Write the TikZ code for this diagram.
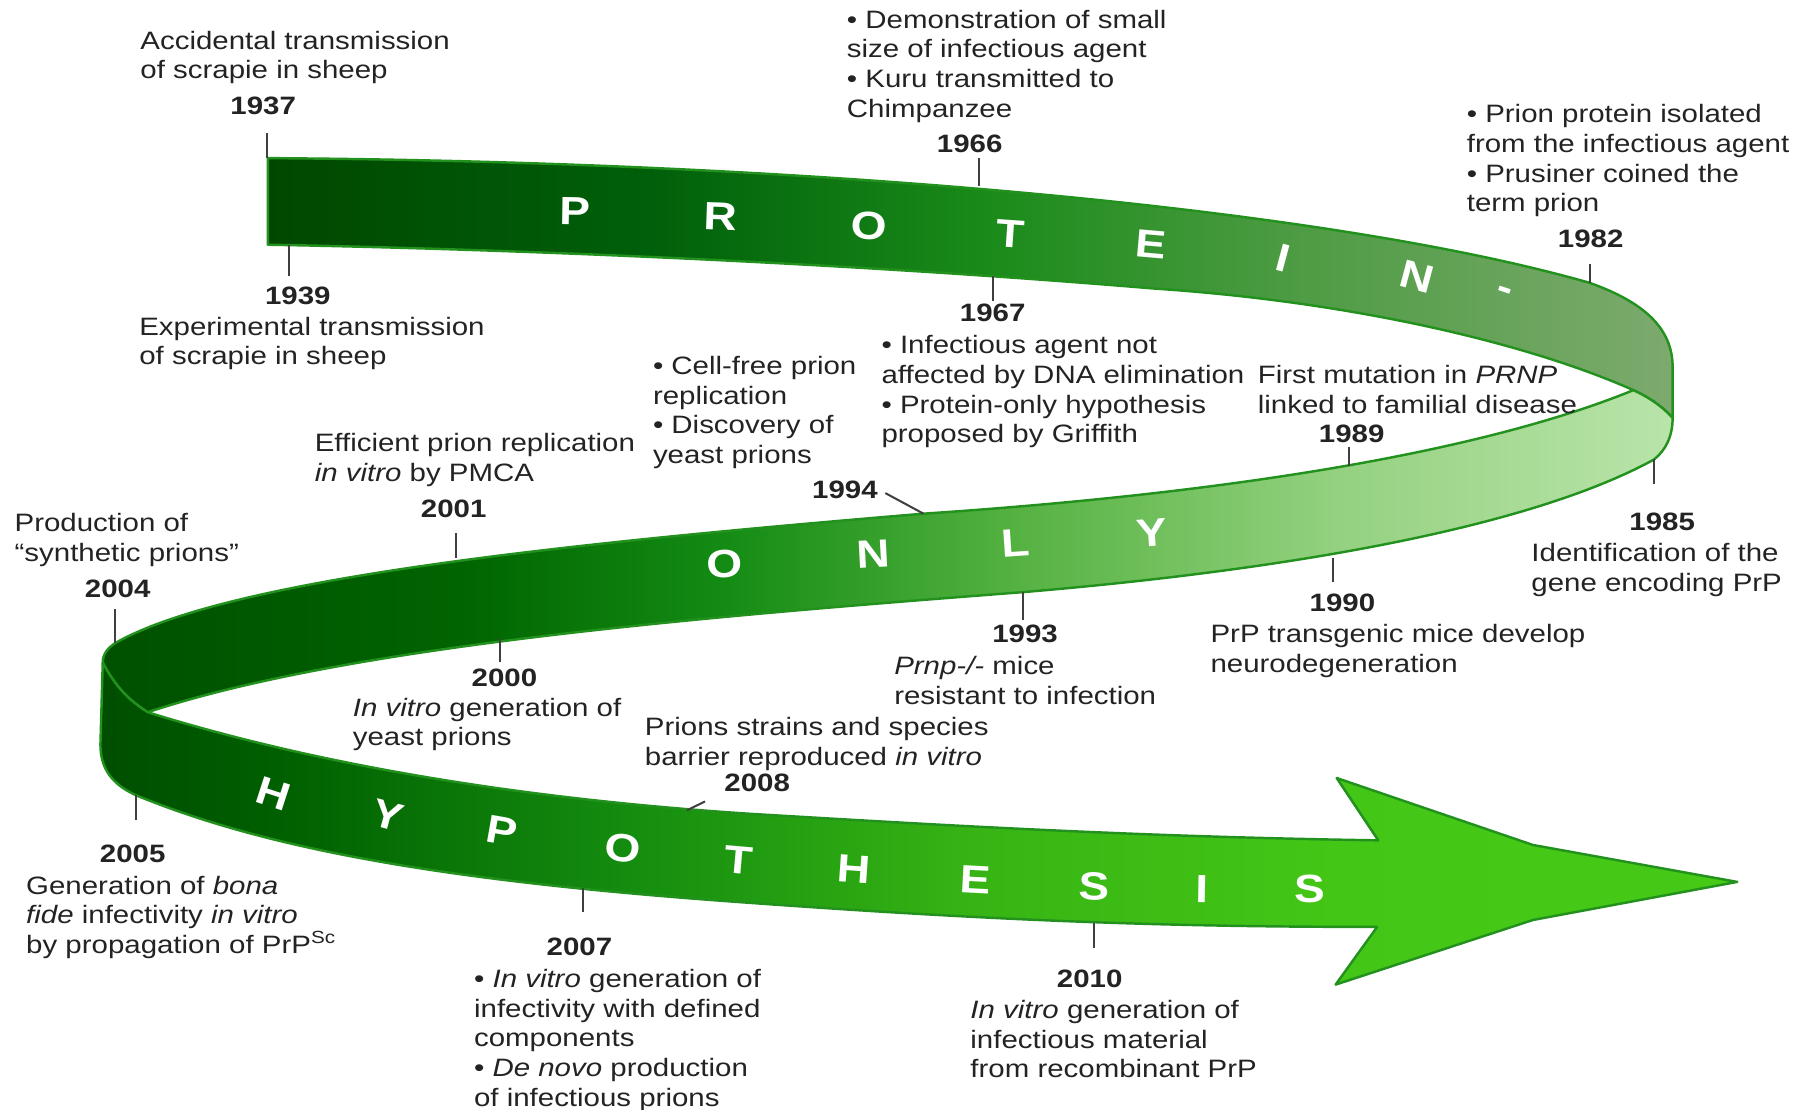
\documentclass[tikz,border=0pt]{standalone}
\usepackage{fontspec}
\setmainfont{Liberation Sans}[FakeStretch=1.17]
\usepackage{xcolor}
\usepackage{tikz}
\usetikzlibrary{positioning, calc}

\definecolor{bandline}{RGB}{35,145,30}
\definecolor{inkgray}{RGB}{35,35,35}
% upper band colours
\definecolor{b1a}{RGB}{0,72,0}
\definecolor{b1b}{RGB}{0,95,10}
\definecolor{b1c}{RGB}{25,138,25}
\definecolor{b1d}{RGB}{75,155,65}
\definecolor{b1e}{RGB}{125,170,110}
% middle band colours
\definecolor{b2a}{RGB}{0,80,0}
\definecolor{b2b}{RGB}{0,100,0}
\definecolor{b2c}{RGB}{20,140,20}
\definecolor{b2d}{RGB}{85,178,65}
\definecolor{b2e}{RGB}{150,210,130}
\definecolor{b2f}{RGB}{185,228,170}
% lower band colours
\definecolor{b3a}{RGB}{0,78,0}
\definecolor{b3b}{RGB}{0,95,0}
\definecolor{b3c}{RGB}{20,140,15}
\definecolor{b3d}{RGB}{55,180,20}
\definecolor{b3e}{RGB}{68,198,22}
\definecolor{b3f}{RGB}{70,202,22}

\pgfdeclarehorizontalshading{bandone}{100bp}{color(0bp)=(b1a); color(25bp)=(b1a);
  color(38.5bp)=(b1b); color(50.4bp)=(b1c); color(61bp)=(b1d); color(75bp)=(b1e); color(100bp)=(b1e)}
\pgfdeclarehorizontalshading{bandtwo}{100bp}{color(0bp)=(b2a); color(25bp)=(b2a);
  color(36.3bp)=(b2b); color(44.9bp)=(b2c); color(54.1bp)=(b2d); color(64.7bp)=(b2e); color(75bp)=(b2f); color(100bp)=(b2f)}
\pgfdeclarehorizontalshading{bandthree}{100bp}{color(0bp)=(b3a); color(25bp)=(b3a);
  color(30.3bp)=(b3b); color(41bp)=(b3c); color(51.7bp)=(b3d); color(62.7bp)=(b3e); color(75bp)=(b3f); color(100bp)=(b3f)}

\begin{document}
\begin{tikzpicture}[
  x=0.01cm, y=-0.01cm,
  font=\fontsize{6.2}{7.3}\selectfont, text=inkgray,
  yr/.style={font=\fontsize{6.2}{7.3}\selectfont\bfseries, inner sep=0pt},
  desc/.style={align=left, anchor=north west, inner sep=0pt},
  tick/.style={draw=black!75, line width=0.5pt},
  band/.style={draw=bandline, line width=0.6pt, line join=round},
  letter/.style={text=white, font=\fontsize{9.7}{9.7}\selectfont\bfseries, inner sep=0pt}
]
  \useasboundingbox (0,0) rectangle (1568,961);

  % ribbon: PROTEIN-
  \shade[band, shading=bandone]
    (232,137) .. controls (700,140) and (1150,180) .. (1377,245)
    .. controls (1425,262) and (1449,285) .. (1449,318) -- (1449,362)
    .. controls (1440,352) and (1428,344) .. (1415,338)
    .. controls (1330,300) and (1180,262) .. (1000,250)
    .. controls (700,225) and (400,215) .. (232,212) -- cycle;

  % ribbon: ONLY
  \shade[band, shading=bandtwo]
    (1415,338) .. controls (1300,385) and (1100,425) .. (800,445)
    .. controls (500,470) and (200,500) .. (100,557)
    .. controls (94,561) and (89,566) .. (89,574)
    .. controls (100,595) and (112,607) .. (128,617)
    .. controls (300,560) and (600,535) .. (886,513)
    .. controls (1100,495) and (1320,460) .. (1433,398)
    .. controls (1443,390) and (1449,378) .. (1449,362)
    .. controls (1440,352) and (1428,344) .. (1415,338) -- cycle;

  % ribbon: HYPOTHESIS with arrow head
  \shade[band, shading=bandthree]
    (128,617) .. controls (250,655) and (420,690) .. (650,705)
    .. controls (850,717) and (1000,725) .. (1194,728)
    -- (1158,674) -- (1328,732) -- (1505,764) -- (1328,797) -- (1157,853) -- (1193,803)
    .. controls (1000,803) and (850,797) .. (620,780)
    .. controls (380,762) and (230,735) .. (118,689)
    .. controls (96,679) and (87,665) .. (87,645) -- (89,574)
    .. controls (100,595) and (112,607) .. (128,617) -- cycle;

  % letters
  \node[letter, rotate=-1] (p1) at (498,183) {P};
  \node[letter, rotate=-2] (p2) at (624,188) {R};
  \node[letter, rotate=-3] (p3) at (753,196) {O};
  \node[letter, rotate=-4] (p4) at (875,203) {T};
  \node[letter, rotate=-5] (p5) at (997,212) {E};
  \node[letter, rotate=-15] (p6) at (1112,224) {I};
  \node[letter, rotate=-15] (p7) at (1228,240) {N};
  \node[letter, rotate=-18] (p8) at (1303,255) {-};

  \node[letter, rotate=3] (o1) at (628,489) {O};
  \node[letter, rotate=3] (o2) at (757,480) {N};
  \node[letter, rotate=4] (o3) at (880,470) {L};
  \node[letter, rotate=4] (o4) at (998,462) {Y};

  \node[letter, rotate=-18] (h1) at (237,688) {H};
  \node[letter, rotate=-15] (h2) at (336,706) {Y};
  \node[letter, rotate=-10] (h3) at (435,720) {P};
  \node[letter, rotate=-7] (h4) at (540,735) {O};
  \node[letter, rotate=-5] (h5) at (640,745) {T};
  \node[letter, rotate=-4] (h6) at (740,753) {H};
  \node[letter, rotate=-3] (h7) at (845,762) {E};
  \node[letter, rotate=-2] (h8) at (948,768) {S};
  \node[letter, rotate=-1] (h9) at (1041,770) {I};
  \node[letter] (h10) at (1135,770) {S};

  % tick points on the ribbon edges
  \coordinate (e1937) at (231,137);
  \coordinate (e1939) at (250,212);
  \coordinate (e1966) at (848,161);
  \coordinate (e1967) at (860,239);
  \coordinate (e1982) at (1377,245);
  \coordinate (e1985) at (1433,398);
  \coordinate (e1989) at (1169,404);
  \coordinate (e1990) at (1155,483);
  \coordinate (e1993) at (886,513);
  \coordinate (e1994) at (800,445);
  \coordinate (e2001) at (395,483);
  \coordinate (e2004) at (100,557);
  \coordinate (e2000) at (433,553);
  \coordinate (e2005) at (118,689);
  \coordinate (e2007) at (505,769);
  \coordinate (e2008) at (595,702);
  \coordinate (e2010) at (948,800);

  % years
  \node[yr] (y1937) at (228,92) {1937};
  \node[yr] (y1939) at (258,256) {1939};
  \node[yr] (y1966) at (840,125) {1966};
  \node[yr] (y1967) at (860,271) {1967};
  \node[yr] (y1982) at (1378,207) {1982};
  \node[yr] (y1985) at (1440,452) {1985};
  \node[yr] (y1989) at (1171,376) {1989};
  \node[yr] (y1990) at (1163,522) {1990};
  \node[yr] (y1993) at (888,549) {1993};
  \node[yr] (y1994) at (732,424) {1994};
  \node[yr] (y2001) at (393,441) {2001};
  \node[yr] (y2004) at (102,510) {2004};
  \node[yr] (y2000) at (437,587) {2000};
  \node[yr] (y2005) at (115,740) {2005};
  \node[yr] (y2007) at (502,820) {2007};
  \node[yr] (y2008) at (656,678) {2008};
  \node[yr] (y2010) at (944,848) {2010};

  % ticks
  \draw[tick, shorten >=4.3pt] (e1937) -- (e1937 |- y1937.south);
  \draw[tick, shorten >=2.3pt] (e1939) -- (e1939 |- y1939.north);
  \draw[tick, shorten >=1.1pt] (e1966) -- (e1966 |- y1966.south);
  \draw[tick, shorten >=0.6pt] (e1967) -- (e1967 |- y1967.north);
  \draw[tick, shorten >=3.7pt] (e1982) -- (e1982 |- y1982.south);
  \draw[tick, shorten >=6.8pt] (e1985) -- (e1985 |- y1985.north);
  \draw[tick, shorten >=0.9pt] (e1989) -- (e1989 |- y1989.south);
  \draw[tick, shorten >=2.6pt] (e1990) -- (e1990 |- y1990.north);
  \draw[tick, shorten >=0.9pt] (e1993) -- (e1993 |- y1993.north);
  \draw[tick, shorten >=1.9pt] (e1994) -- (y1994.east);
  \draw[tick, shorten >=3.4pt] (e2001) -- (e2001 |- y2001.south);
  \draw[tick, shorten >=2.6pt] (e2004) -- (e2004 |- y2004.south);
  \draw[tick, shorten >=1.4pt] (e2000) -- (e2000 |- y2000.north);
  \draw[tick, shorten >=6pt] (e2005) -- (e2005 |- y2005.north);
  \draw[tick, shorten >=6pt] (e2007) -- (e2007 |- y2007.north);
  \draw[tick, shorten >=5.1pt] (e2008) -- (y2008.south west);
  \draw[tick, shorten >=5.1pt] (e2010) -- (e2010 |- y2010.north);

  % events
  \node[desc] (t1937) at (121,26) {Accidental transmission\\of scrapie in sheep};
  \node[desc] (t1939) at (120,274) {Experimental transmission\\of scrapie in sheep};
  \node[desc] (t1966) at (733,8) {\textbullet\ Demonstration of small\\size of infectious agent\\\textbullet\ Kuru transmitted to\\Chimpanzee};
  \node[desc] (t1967) at (763,290) {\textbullet\ Infectious agent not\\affected by DNA elimination\\\textbullet\ Protein-only hypothesis\\proposed by Griffith};
  \node[desc] (t1982) at (1270,90) {\textbullet\ Prion protein isolated\\from the infectious agent\\\textbullet\ Prusiner coined the\\term prion};
  \node[desc] (t1985) at (1326,470) {Identification of the\\gene encoding PrP};
  \node[desc] (t1989) at (1089,316) {First mutation in \textit{PRNP}\\linked to familial disease};
  \node[desc] (t1990) at (1048,540) {PrP transgenic mice develop\\neurodegeneration};
  \node[desc] (t1993) at (774,568) {\textit{Prnp-/-} mice\\resistant to infection};
  \node[desc] (t1994) at (565,308) {\textbullet\ Cell-free prion\\replication\\\textbullet\ Discovery of\\yeast prions};
  \node[desc] (t2001) at (272,375) {Efficient prion replication\\\textit{in vitro} by PMCA};
  \node[desc] (t2004) at (12,444) {Production of\\“synthetic prions”};
  \node[desc] (t2000) at (305,604) {\textit{In vitro} generation of\\yeast prions};
  \node[desc] (t2005) at (22,758) {Generation of \textit{bona}\\\textit{fide} infectivity \textit{in vitro}\\by propagation of PrP\textsuperscript{Sc}};
  \node[desc] (t2007) at (410,839) {\textbullet\ \textit{In vitro} generation of\\infectivity with defined\\components\\\textbullet\ \textit{De novo} production\\of infectious prions};
  \node[desc] (t2008) at (558,621) {Prions strains and species\\barrier reproduced \textit{in vitro}};
  \node[desc] (t2010) at (840,866) {\textit{In vitro} generation of\\infectious material\\from recombinant PrP};
\end{tikzpicture}
\end{document}
